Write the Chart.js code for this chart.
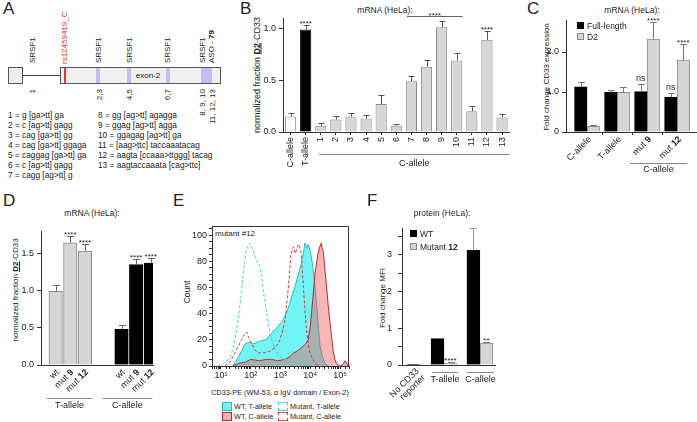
<!DOCTYPE html>
<html lang="en">
<head>
<meta charset="UTF-8">
<title>CD33 exon-2 splicing</title>
<script src="https://cdn.jsdelivr.net/npm/chart.js"></script>
<style>
  body { margin: 0; width: 697px; height: 422px; position: relative; overflow: hidden; background: #fff;
         font-family: "Liberation Sans", Arial, Helvetica, sans-serif; color: #222; }
  .t { position: absolute; white-space: nowrap; line-height: 1; transform-origin: 0 0; }
  .box { position: absolute; box-sizing: border-box; }
  canvas { position: absolute; }
</style>
</head>
<body>
<script>
// ---- data -------------------------------------------------------------
// B: normalized fraction D2-CD33, exon-2 mutants
const bLabels = ['C-allele', 'T-allele', '1', '2', '3', '4', '5', '6', '7', '8', '9', '10', '11', '12', '13'];
const bValues = [0.15, 0.99, 0.06, 0.12, 0.15, 0.13, 0.27, 0.06, 0.49, 0.63, 1.01, 0.69, 0.20, 0.89, 0.14];
const bErrors = [0.03, 0.04, 0.03, 0.03, 0.03, 0.03, 0.09, 0.02, 0.05, 0.06, 0.06, 0.07, 0.05, 0.08, 0.03];
const bStars  = ['', '****', '', '', '', '', '', '', '', '', '', '', '', '****', ''];

// C: fold change CD33 expression
const cLabels   = ['C-allele', 'T-allele', 'mut 9', 'mut 12'];
const cFull     = [1.13, 0.99, 1.01, 0.87];
const cFullErr  = [0.13, 0.05, 0.20, 0.10];
const cFullSig  = ['', '', 'ns', 'ns'];
const cD2       = [0.14, 0.99, 2.32, 1.80];
const cD2Err    = [0.04, 0.14, 0.43, 0.40];
const cD2Sig    = ['', '', '****', '****'];

// D: normalized fraction D2-CD33, T- and C-allele
const dLabels = ['wt', 'mut 9', 'mut 12', 'wt', 'mut 9', 'mut 12'];
const dValues = [0.99, 1.64, 1.53, 0.48, 1.35, 1.37];
const dErrors = [0.08, 0.09, 0.09, 0.06, 0.07, 0.07];
const dStars  = ['', '****', '****', '', '****', '****'];

// E: flow cytometry histograms (CD33-PE intensity vs count)
const eWtTx  = [25, 35, 50, 65, 89, 126, 200, 316, 501, 794, 1122, 1413, 1995, 2512, 3090, 3981, 5129, 6026, 6607, 7586, 8511, 10000, 12589, 14454, 16596, 19055, 21380, 25119, 31623, 39811];
const eWtTy  = [0, 5, 12, 17, 18, 17, 19, 20, 25, 30, 34, 38, 47, 55, 61, 70, 79, 88, 94, 90, 93, 88, 74, 60, 45, 28, 15, 8, 2, 0];
const eWtCx  = [25, 40, 65, 100, 200, 316, 501, 794, 1413, 1995, 2818, 3981, 5129, 7079, 8511, 10000, 10965, 12589, 14454, 16596, 18621, 21380, 22909, 25119, 27542, 31623, 35481, 39811, 45709, 52481, 58884, 67608, 75858, 89125, 112202, 131826, 147911, 165959, 190546];
const eWtCy  = [0, 2, 3, 5, 4, 5, 5, 4, 5, 7, 10, 12, 14, 17, 20, 30, 40, 55, 71, 80, 87, 92, 94, 90, 87, 72, 60, 47, 34, 22, 11, 5, 2, 0, 0, 2, 4, 2, 0];
const eMutTx = [8, 12.6, 17.8, 22.9, 29.5, 38, 47.9, 56.2, 63.1, 72.4, 83.2, 93.3, 107, 120, 138, 158, 182, 204, 251, 302, 363, 447, 537, 661, 891, 1413, 1995, 3090, 5012, 7079, 10000];
const eMutTy = [0, 2, 5, 10, 20, 35, 55, 71, 80, 89, 92, 94, 91, 89, 84, 80, 78, 76, 62, 49, 37, 25, 18, 12, 8, 5, 4, 3, 2, 1, 0];
const eMutCx = [13.5, 20, 29.5, 39.8, 50.1, 60.3, 72.4, 85.1, 107, 141, 178, 282, 398, 501, 631, 851, 1122, 1413, 1820, 2239, 2692, 3162, 3548, 3981, 4467, 4898, 5370, 5888, 6761, 7586, 8710, 9772, 12023, 14454, 19953];
const eMutCy = [0, 3, 10, 16, 20, 24, 26, 22, 17, 12, 10, 10, 11, 12, 14, 17, 25, 35, 59, 85, 91, 86, 90, 93, 91, 87, 75, 60, 40, 26, 16, 10, 5, 2, 0];

// F: fold change MFI (protein)
const fLabels  = ['No CD33 reporter', 'T-allele', 'C-allele'];
const fWT      = [0.02, 0.72, 3.12];
const fWTErr   = [0, 0, 0.6];
const fMut     = [null, 0.05, 0.60];
const fMutErr  = [null, 0.02, 0.03];
const fMutSig  = ['', '****', '**'];

// ---- helpers ----------------------------------------------------------
const FONT = '"Liberation Sans", Arial, Helvetica, sans-serif';
Chart.defaults.font.family = FONT;
Chart.defaults.font.size = 9;
Chart.defaults.color = '#222';
Chart.defaults.animation = false;
Chart.defaults.plugins.legend.display = false;
Chart.defaults.plugins.tooltip.enabled = false;

const GREY = '#d6d6d6', GREY_EDGE = '#8a8a8a';

function txt(html, x, y, o = {}) {
  const d = document.createElement('div');
  d.className = 't';
  d.innerHTML = html;
  d.style.left = x + 'px';
  d.style.top = y + 'px';
  d.style.fontSize = (o.size || 9) + 'px';
  if (o.color) d.style.color = o.color;
  const ax = o.align === 'center' ? '-50%' : o.align === 'right' ? '-100%' : '0';
  d.style.transform = (o.rot ? 'rotate(-90deg) ' : '') + `translate(${ax},-50%)`;
  document.body.appendChild(d);
  return d;
}
function box(x, y, w, h, css) {
  const d = document.createElement('div');
  d.className = 'box';
  d.style.cssText += `left:${x}px;top:${y}px;width:${w}px;height:${h}px;` + css;
  document.body.appendChild(d);
}
function letter(s, x, y) { txt(s, x, y + 8, { size: 17 }); }

// canvas at [left, top, w, h]; chart area at [l, t, r, b] in page pixels
function makeChart(cbox, area, cfg) {
  const c = document.createElement('canvas');
  c.width = cbox[2]; c.height = cbox[3];
  c.style.left = cbox[0] + 'px'; c.style.top = cbox[1] + 'px';
  document.body.appendChild(c);
  cfg.options.responsive = false;
  cfg.options.devicePixelRatio = 1;
  cfg.options.layout = { padding: { left: 0, top: area[1] - cbox[1], right: cbox[0] + cbox[2] - area[2], bottom: 0 } };
  cfg.options.scales.x.afterFit = s => { s.height = cbox[1] + cbox[3] - area[3]; };
  cfg.options.scales.y.afterFit = s => { s.width = area[0] - cbox[0]; };
  return new Chart(c, cfg);
}

function drawRich(ctx, parts, x, y, size) {
  let w = 0;
  parts.forEach(p => { ctx.font = (p[1] ? 'bold ' : '') + size + 'px ' + FONT; w += ctx.measureText(p[0]).width; });
  let cx = x - w;
  parts.forEach(p => {
    ctx.font = (p[1] ? 'bold ' : '') + size + 'px ' + FONT;
    ctx.fillText(p[0], cx, y);
    cx += ctx.measureText(p[0]).width;
  });
}
function richLabel(s) {
  const m = s.match(/^mut (\d+)$/);
  return m ? [['mut ', false], [m[1], true]] : [[s, false]];
}

// error whiskers + significance marks, read from dataset.err / dataset.sig
const marks = {
  id: 'marks',
  afterDatasetsDraw(chart) {
    const ctx = chart.ctx, ys = chart.scales.y;
    chart.data.datasets.forEach((ds, di) => {
      const meta = chart.getDatasetMeta(di);
      meta.data.forEach((bar, i) => {
        const raw = ds.data[i];
        const v = raw !== null && typeof raw === 'object' ? raw.y : raw;
        if (v === null || v === undefined) return;
        const e = ds.err ? (ds.err[i] || 0) : 0;
        const top = ys.getPixelForValue(v + e);
        ctx.save();
        if (e) {
          const x = Math.round(bar.x) + 0.5, half = Math.max(2.5, bar.width * 0.27);
          ctx.strokeStyle = ds.errColor || '#666';
          ctx.lineWidth = 1;
          ctx.beginPath();
          ctx.moveTo(x, bar.y); ctx.lineTo(x, Math.round(top) + 0.5);
          ctx.moveTo(x - half, Math.round(top) + 0.5); ctx.lineTo(x + half, Math.round(top) + 0.5);
          ctx.stroke();
        }
        const s = ds.sig && ds.sig[i];
        if (s) {
          ctx.fillStyle = '#222';
          ctx.textAlign = 'center';
          ctx.textBaseline = 'alphabetic';
          const star = /^\*+$/.test(s);
          ctx.font = (star ? 8 : 9) + 'px ' + FONT;
          ctx.fillText(s, bar.x, star ? top + 1 : top - 3);
        }
        ctx.restore();
      });
    });
  }
};

// group lines/labels under the x axis, brackets, rotated rich labels, frame
function annotate(spec) {
  return {
    id: 'annotate',
    afterDraw(chart) {
      const ctx = chart.ctx, xs = chart.scales.x, ys = chart.scales.y, a = chart.chartArea;
      ctx.save();
      ctx.lineWidth = 1;
      (spec.groups || []).forEach(g => {
        const x0 = xs.getPixelForValue(g.x0), x1 = xs.getPixelForValue(g.x1);
        const y = Math.round(a.bottom + g.dy) + 0.5;
        ctx.strokeStyle = '#888';
        ctx.beginPath(); ctx.moveTo(x0, y); ctx.lineTo(x1, y); ctx.stroke();
        ctx.fillStyle = '#222';
        ctx.font = '9px ' + FONT;
        ctx.textAlign = 'center'; ctx.textBaseline = 'middle';
        ctx.fillText(g.text, (x0 + x1) / 2, a.bottom + g.tdy);
      });
      (spec.brackets || []).forEach(b => {
        const x0 = xs.getPixelForValue(b.x0), x1 = xs.getPixelForValue(b.x1);
        const y = Math.round(ys.getPixelForValue(b.y)) + 0.5;
        ctx.strokeStyle = '#666';
        ctx.beginPath(); ctx.moveTo(x0, y); ctx.lineTo(x1, y); ctx.stroke();
        ctx.fillStyle = '#222';
        ctx.font = '8px ' + FONT;
        ctx.textAlign = 'center'; ctx.textBaseline = 'alphabetic';
        ctx.fillText(b.text, (x0 + x1) / 2, y + 1);
      });
      if (spec.labels) {
        ctx.fillStyle = '#222';
        ctx.textAlign = 'left'; ctx.textBaseline = 'middle';
        spec.labels.items.forEach(l => {
          ctx.save();
          ctx.translate(xs.getPixelForValue(l.x) + spec.labels.dx, a.bottom + spec.labels.dy);
          ctx.rotate(-Math.PI / 4);
          l.lines.forEach((parts, k) => drawRich(ctx, parts, 0, k * 9, 9));
          ctx.restore();
        });
      }
      if (spec.frame) {
        ctx.strokeStyle = '#333';
        ctx.beginPath();
        ctx.moveTo(Math.round(a.left), Math.round(a.top) + 0.5);
        ctx.lineTo(Math.round(a.right) - 0.5, Math.round(a.top) + 0.5);
        ctx.lineTo(Math.round(a.right) - 0.5, a.bottom);
        ctx.stroke();
      }
      ctx.restore();
    }
  };
}

const axisGrid = (len, show = true) => ({ display: show, drawOnChartArea: false, drawTicks: true, tickLength: len, color: '#333', offset: false });
const axisBorder = { display: true, color: '#333', width: 1 };

// ---- panel A: exon-2 schematic (HTML) ---------------------------------
letter('A', 3, 0);
box(8, 67, 15, 17, 'background:#eee;border:1px solid #555;');
box(22, 75, 39, 1, 'background:#444;');
box(60, 67, 161, 17, 'background:#efefef;border:1px solid #555;');
[[96, 4], [127, 4], [166, 4], [201, 11]].forEach(s => box(s[0], 68, s[1], 15, 'background:#bfbff2;'));
box(64, 68, 2, 15, 'background:#e8322c;');
txt('exon-2', 148, 76, { size: 8, align: 'center' });
[[33, 'SRSF1'], [99, 'SRSF1'], [130, 'SRSF1'], [168, 'SRSF1'], [203, 'SRSF1'], [212, 'ASO - <b>79</b>']]
  .forEach(l => txt(l[1], l[0], 63, { size: 8, rot: true }));
txt('rs12459419_C', 65, 64, { size: 8, rot: true, color: '#e0302a' });
[[33, '1'], [100, '2,3'], [130, '4,5'], [168, '6,7'], [203, '8, 9, 10'], [213, '11, 12, 13']]
  .forEach(l => txt(l[1], l[0], 89, { size: 8, rot: true, align: 'right' }));
const mutKeyLeft = ['1 = g [ga&gt;tt] ga', '2 = c [ag&gt;tt] gagg', '3 = cag [ga&gt;tt] gg', '4 = cag [ga&gt;tt] ggaga',
  '5 = caggag [ga&gt;tt] ga', '6 = c [ag&gt;tt] gagg', '7 = cagg [ag&gt;tt] g'];
const mutKeyRight = ['8 = gg [ag&gt;tt] agagga', '9 = ggag [ag&gt;tt] agga', '10 = ggagag [ag&gt;tt] ga',
  '11 = [aag&gt;ttc] taccaaatacag', '12 = aagta [ccaaa&gt;ttggg] tacag', '13 = aagtaccaaata [cag&gt;ttc]'];
mutKeyLeft.forEach((s, i) => txt(s, 8, 115 + i * 10, { size: 8.3 }));
mutKeyRight.forEach((s, i) => txt(s, 98, 115 + i * 10, { size: 8.3 }));

// ---- panel B ----------------------------------------------------------
letter('B', 240, 0);
txt('mRNA (HeLa):', 385, 10, { size: 8.5, align: 'center' });
txt('normalized fraction <b><u>D2</u></b>-CD33', 257, 75, { size: 9, rot: true, align: 'center' });
makeChart([240, 0, 275, 200], [283, 18, 510, 132], {
  type: 'bar',
  data: {
    labels: bLabels,
    datasets: [{
      data: bValues, err: bErrors, sig: bStars, errColor: '#555',
      backgroundColor: bLabels.map((l, i) => i === 0 ? '#fff' : i === 1 ? '#000' : GREY),
      borderColor: bLabels.map((l, i) => i === 1 ? '#000' : GREY_EDGE),
      borderWidth: 1, barPercentage: 0.74, categoryPercentage: 1
    }]
  },
  options: {
    scales: {
      x: { grid: axisGrid(3), border: axisBorder,
           ticks: { minRotation: 90, maxRotation: 90, padding: 2, autoSkip: false, font: { size: 9 } } },
      y: { min: 0, max: 1.1, grid: axisGrid(4), border: axisBorder,
           ticks: { stepSize: 0.5, includeBounds: false, padding: 3, callback: v => v.toFixed(1) } }
    }
  },
  plugins: [marks, annotate({
    groups: [{ x0: 1.88, x1: 14.5, dy: 22, tdy: 32, text: 'C-allele' }],
    brackets: [{ x0: 7.7, x1: 11.4, y: 1.12, text: '****' }]
  })]
});

// ---- panel C ----------------------------------------------------------
letter('C', 527, 0);
txt('mRNA (HeLa):', 632, 10, { size: 8.5, align: 'center' });
txt('Fold change CD33 expression', 547, 77, { size: 8, rot: true, align: 'center' });
const cSlots = [1, 2, 3, 4];
makeChart([520, 0, 177, 200], [566, 20, 696, 132], {
  type: 'bar',
  data: {
    datasets: [
      { data: cFull.map((v, i) => ({ x: cSlots[i], y: v })), err: cFullErr, sig: cFullSig, errColor: '#777',
        backgroundColor: '#000', borderColor: '#000', borderWidth: 1, barThickness: 12.5 },
      { data: cD2.map((v, i) => ({ x: cSlots[i], y: v })), err: cD2Err, sig: cD2Sig, errColor: '#777',
        backgroundColor: GREY, borderColor: GREY_EDGE, borderWidth: 1, barThickness: 12.5 }
    ]
  },
  options: {
    scales: {
      x: { type: 'linear', offset: false, min: 0.3, max: 4.63, grid: axisGrid(3), border: axisBorder, ticks: { display: false },
           afterBuildTicks: s => { s.ticks = [1.5, 2.5, 3.5].map(v => ({ value: v })); } },
      y: { min: 0, max: 2.8, grid: axisGrid(4), border: axisBorder,
           ticks: { stepSize: 1, includeBounds: false, padding: 3, callback: v => v === 0 ? '0' : v.toFixed(1) } }
    }
  },
  plugins: [marks, annotate({
    groups: [{ x0: 2.43, x1: 4.33, dy: 31, tdy: 38, text: 'C-allele' }],
    labels: { dx: 3, dy: 6, items: cLabels.map((l, i) => ({ x: cSlots[i], lines: [richLabel(l)] })) }
  })]
});
box(577, 22, 7, 7, 'background:#000;');
txt('Full-length', 587, 25.5, { size: 8.5 });
box(577, 33, 7, 7, `background:${GREY};border:1px solid ${GREY_EDGE};`);
txt('D2', 587, 36.5, { size: 8.5 });

// ---- panel D ----------------------------------------------------------
letter('D', 3, 192);
txt('mRNA (HeLa):', 92, 213, { size: 8.5, align: 'center' });
txt('normalized fraction <b><u>D2</u></b>-CD33', 16, 290, { size: 8, rot: true, align: 'center' });
const dSlots = [1, 2, 3, 5.5, 6.5, 7.5];
makeChart([0, 200, 160, 222], [41, 231, 153, 365], {
  type: 'bar',
  data: {
    datasets: [{
      data: dValues.map((v, i) => ({ x: dSlots[i], y: v })), err: dErrors, sig: dStars, errColor: '#666',
      backgroundColor: dValues.map((v, i) => i < 3 ? GREY : '#000'),
      borderColor: dValues.map((v, i) => i < 3 ? GREY_EDGE : '#000'),
      borderWidth: 1, barThickness: 13.5
    }]
  },
  options: {
    scales: {
      x: { type: 'linear', offset: false, min: 0, max: 7.65, grid: axisGrid(0, false), border: axisBorder, ticks: { display: false } },
      y: { min: 0, max: 1.8, grid: axisGrid(4), border: axisBorder,
           ticks: { stepSize: 0.5, includeBounds: false, padding: 3, callback: v => v.toFixed(1) } }
    }
  },
  plugins: [marks, annotate({
    groups: [{ x0: 0.4, x1: 3.5, dy: 33, tdy: 41, text: 'T-allele' },
             { x0: 4.2, x1: 7.6, dy: 33, tdy: 41, text: 'C-allele' }],
    labels: { dx: 2, dy: 6, items: dLabels.map((l, i) => ({ x: dSlots[i], lines: [richLabel(l)] })) }
  })]
});

// ---- panel E ----------------------------------------------------------
letter('E', 173, 192);
txt('Count', 187, 292, { size: 8.5, rot: true, align: 'center' });
txt('CD33-PE (WM-53, α IgV domain / Exon-2)', 280, 393, { size: 7.3, align: 'center' });
txt('mutant #12', 215, 234, { size: 8 });
const pts = (xs, ys) => xs.map((x, i) => ({ x, y: ys[i] }));
const SUP = '⁰¹²³⁴⁵⁶';
makeChart([190, 215, 165, 180], [212, 226, 349, 366], {
  type: 'line',
  data: {
    datasets: [
      { data: pts(eMutCx, eMutCy), borderColor: '#d23a3a', borderDash: [3, 2], borderWidth: 1, fill: false },
      { data: pts(eMutTx, eMutTy), borderColor: '#39d6d6', borderDash: [3, 2], borderWidth: 1, fill: false },
      { data: pts(eWtCx, eWtCy), borderColor: '#c0262c', borderWidth: 1, fill: 'origin', backgroundColor: 'rgba(236,84,84,0.42)' },
      { data: pts(eWtTx, eWtTy), borderColor: '#2fb9b9', borderWidth: 1, fill: 'origin', backgroundColor: '#72f4f4' }
    ]
  },
  options: {
    elements: { point: { radius: 0 }, line: { tension: 0 } },
    scales: {
      x: { type: 'logarithmic', min: 5, max: 200000, grid: axisGrid(3), border: axisBorder,
           ticks: { autoSkip: false, maxRotation: 0, padding: 1, font: { size: 9 },
             callback: v => { const l = Math.log10(v), e = Math.round(l); return Math.abs(l - e) < 1e-6 ? '10' + SUP[e] : ''; } } },
      y: { min: 0, max: 107, grid: axisGrid(3), border: axisBorder,
           ticks: { stepSize: 5, autoSkip: false, includeBounds: false, padding: 2, callback: v => v % 20 === 0 ? String(v) : '' } }
    }
  },
  plugins: [annotate({ frame: true })]
});
// E legend
box(222, 402, 10, 9, 'background:#72f4f4;border:1px solid #2fb9b9;');
txt('WT, T-allele', 234, 406.5, { size: 7.3 });
box(278, 402, 10, 9, 'border:1px dashed #39d6d6;');
txt('Mutant, T-allele', 290, 406.5, { size: 7.3 });
box(222, 412, 10, 9, 'background:#f5b0b0;border:1px solid #c0262c;');
txt('WT, C-allele', 234, 416.5, { size: 7.3 });
box(278, 412, 10, 9, 'border:1px dashed #d23a3a;');
txt('Mutant, C-allele', 290, 416.5, { size: 7.3 });

// ---- panel F ----------------------------------------------------------
letter('F', 367, 192);
txt('protein (HeLa):', 442, 213, { size: 8.5, align: 'center' });
txt('Fold change MFI', 383, 298, { size: 8, rot: true, align: 'center' });
const fSlots = [0.15, 1, 2];
makeChart([370, 215, 135, 200], [402, 228, 495, 365], {
  type: 'bar',
  data: {
    datasets: [
      { data: fWT.map((v, i) => ({ x: fSlots[i], y: v })), err: fWTErr, errColor: '#999',
        backgroundColor: '#000', borderColor: '#000', borderWidth: 1, barThickness: 13 },
      { data: fMut.map((v, i) => ({ x: fSlots[i], y: v })), err: fMutErr, sig: fMutSig, errColor: '#777',
        backgroundColor: GREY, borderColor: GREY_EDGE, borderWidth: 1, barThickness: 13 }
    ]
  },
  options: {
    skipNull: true,
    scales: {
      x: { type: 'linear', offset: false, min: -0.17, max: 2.42, grid: axisGrid(0, false), border: axisBorder, ticks: { display: false } },
      y: { min: 0, max: 3.73, grid: axisGrid(4), border: axisBorder,
           ticks: { stepSize: 0.5, includeBounds: false, padding: 6, callback: v => Number.isInteger(v) ? String(v) : '' } }
    }
  },
  plugins: [marks, annotate({
    groups: [{ x0: 0.67, x1: 1.39, dy: 7, tdy: 15, text: fLabels[1] },
             { x0: 1.64, x1: 2.39, dy: 7, tdy: 15, text: fLabels[2] }],
    labels: { dx: 4, dy: 5, items: [{ x: fSlots[0], lines: [[['No CD33', false]], [['reporter', false]]] }] }
  })]
});
box(410, 230, 7, 7, 'background:#000;');
txt('WT', 420, 233.5, { size: 8.5 });
box(410, 243, 7, 7, `background:${GREY};border:1px solid ${GREY_EDGE};`);
txt('Mutant <b>12</b>', 420, 246.5, { size: 8.5 });
</script>
</body>
</html>
